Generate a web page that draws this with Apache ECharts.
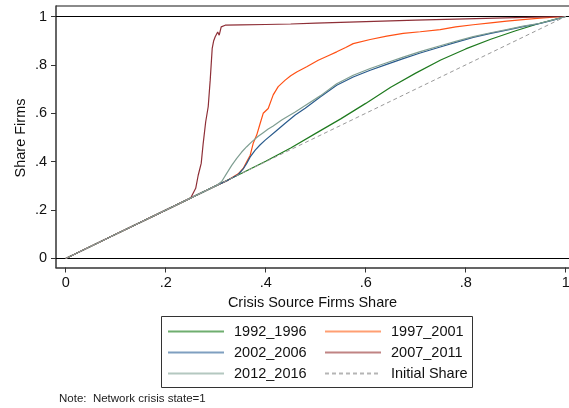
<!DOCTYPE html>
<html>
<head>
<meta charset="utf-8">
<script src="https://cdn.jsdelivr.net/npm/echarts@6/dist/echarts.min.js"></script>
<style>
html,body{margin:0;padding:0;background:#fff;}
#chart{width:569px;height:408px;}
</style>
</head>
<body>
<div id="chart"></div>
<script>
// ---- data ----
const tickValues = [0, 0.2, 0.4, 0.6, 0.8, 1];
const tickLabels = ['0', '.2', '.4', '.6', '.8', '1'];

const x1992 = [0, 0.1, 0.2, 0.3, 0.35, 0.40, 0.45, 0.50, 0.55, 0.60, 0.65, 0.70, 0.75, 0.80, 0.85, 0.90, 0.95, 1.0];
const y1992 = [0, 0.1, 0.2, 0.3, 0.35, 0.402, 0.457, 0.517, 0.577, 0.641, 0.708, 0.766, 0.82, 0.866, 0.906, 0.941, 0.973, 1.0];

const x1997 = [0, 0.1, 0.2, 0.3, 0.325, 0.345, 0.355, 0.362, 0.369, 0.375, 0.382, 0.389, 0.395, 0.405, 0.415, 0.425, 0.439, 0.45, 0.462, 0.482, 0.505, 0.525, 0.542, 0.56, 0.575, 0.609, 0.642, 0.675, 0.709, 0.749, 0.78, 0.815, 0.85, 0.882, 0.92, 0.949, 0.975, 1.0];
const y1997 = [0, 0.1, 0.2, 0.3, 0.324, 0.35, 0.372, 0.40, 0.427, 0.476, 0.51, 0.559, 0.60, 0.62, 0.676, 0.71, 0.737, 0.755, 0.771, 0.792, 0.819, 0.838, 0.854, 0.872, 0.888, 0.905, 0.919, 0.93, 0.937, 0.946, 0.957, 0.966, 0.974, 0.981, 0.988, 0.993, 0.997, 1.0];

const x2002 = [0, 0.1, 0.2, 0.3, 0.325, 0.345, 0.355, 0.362, 0.369, 0.373, 0.379, 0.389, 0.399, 0.419, 0.439, 0.459, 0.479, 0.509, 0.542, 0.575, 0.609, 0.642, 0.675, 0.709, 0.749, 0.78, 0.815, 0.85, 0.882, 0.915, 0.949, 0.975, 1.0];
const y2002 = [0, 0.1, 0.2, 0.3, 0.324, 0.347, 0.37, 0.393, 0.42, 0.422, 0.448, 0.47, 0.489, 0.524, 0.559, 0.593, 0.621, 0.667, 0.716, 0.75, 0.778, 0.802, 0.826, 0.849, 0.874, 0.893, 0.914, 0.93, 0.944, 0.958, 0.971, 0.985, 1.0];

const x2007 = [0, 0.1, 0.2, 0.25, 0.253, 0.26, 0.265, 0.269, 0.271, 0.275, 0.28, 0.283, 0.285, 0.289, 0.291, 0.293, 0.296, 0.299, 0.304, 0.307, 0.311, 0.319, 0.35, 0.4, 0.45, 0.5, 0.6, 0.7, 0.8, 0.9, 1.0];
const y2007 = [0, 0.1, 0.2, 0.25, 0.262, 0.29, 0.344, 0.351, 0.393, 0.476, 0.565, 0.572, 0.627, 0.737, 0.744, 0.868, 0.9, 0.916, 0.936, 0.923, 0.957, 0.964, 0.965, 0.967, 0.969, 0.973, 0.979, 0.985, 0.99, 0.995, 1.0];

const x2012 = [0, 0.1, 0.2, 0.3, 0.312, 0.322, 0.332, 0.342, 0.352, 0.362, 0.372, 0.385, 0.395, 0.405, 0.415, 0.432, 0.442, 0.459, 0.479, 0.509, 0.542, 0.575, 0.609, 0.642, 0.675, 0.709, 0.749, 0.78, 0.815, 0.85, 0.882, 0.915, 0.949, 0.975, 1.0];
const y2012 = [0, 0.1, 0.2, 0.3, 0.318, 0.352, 0.385, 0.414, 0.44, 0.462, 0.482, 0.505, 0.52, 0.535, 0.548, 0.572, 0.585, 0.605, 0.632, 0.672, 0.722, 0.757, 0.785, 0.809, 0.832, 0.855, 0.879, 0.897, 0.917, 0.933, 0.946, 0.96, 0.972, 0.986, 1.0];

const xInit = [0, 1];
const yInit = [0, 1];

const seriesNames = ['1992_1996', '1997_2001', '2002_2006', '2007_2011', '2012_2016', 'Initial Share'];
const refLines = [0, 1];
const xTitle = 'Crisis Source Firms Share';
const yTitle = 'Share Firms';
const noteText = 'Note:  Network crisis state=1';

// ---- styling ----
const plotColors = ['#1f7a1f', '#ff5014', '#2a5b8c', '#8e2f37', '#7f9e92', '#9a9a9a'];
const legendColors = ['#6fae6f', '#ff9f73', '#7f9fc0', '#c08484', '#b4c8c0', '#b5b5b5'];
const FONT = '"Liberation Sans", Arial, Helvetica, sans-serif';

function pairs(xs, ys) { return xs.map((x, i) => [x, ys[i]]); }
const dataSets = [pairs(x1992, y1992), pairs(x1997, y1997), pairs(x2002, y2002), pairs(x2007, y2007), pairs(x2012, y2012), pairs(xInit, yInit)];

const fmt = v => { const i = tickValues.indexOf(v); return i >= 0 ? tickLabels[i] : ''; };

const series = [];
[5, 0, 1, 2, 3, 4].forEach((k) => {
  const s = {
    name: seriesNames[k],
    type: 'line',
    data: dataSets[k],
    symbol: 'none',
    showSymbol: false,
    silent: true,
    animation: false,
    lineStyle: { color: plotColors[k], width: k === 5 ? 1 : 1.2, type: k === 5 ? [4, 3] : 'solid' },
    itemStyle: { color: plotColors[k] },
    z: 2 + k
  };
  if (k === 5) {
    s.markLine = {
      silent: true, symbol: 'none', animation: false,
      label: { show: false },
      lineStyle: { color: '#000', width: 1.2, type: 'solid' },
      data: refLines.map(v => ({ yAxis: v }))
    };
  }
  series.push(s);
});

function legendData(idx) {
  return idx.map(k => ({
    name: seriesNames[k],
    lineStyle: { color: legendColors[k], width: 2, type: k === 5 ? [4, 3] : 'solid' },
    itemStyle: { color: 'rgba(0,0,0,0)', borderWidth: 0, opacity: 0 }
  }));
}

const legendCommon = {
  orient: 'vertical', top: 324, itemWidth: 56, itemHeight: 14, itemGap: 6.0, padding: 0,
  selectedMode: false,
  textStyle: { fontFamily: FONT, fontSize: 14.5, color: '#111', padding: [0, 0, 0, 5], lineHeight: 14 }
};

const option = {
  animation: false,
  backgroundColor: '#fff',
  grid: { left: 56, top: 6, right: 0, height: 261.5, show: false, containLabel: false, outerBoundsMode: 'none' },
  xAxis: {
    type: 'value', min: -0.0194, max: 1.0066,
    name: xTitle, nameLocation: 'middle', nameGap: 20,
    nameTextStyle: { fontFamily: FONT, fontSize: 14.5, color: '#111' },
    axisLine: { show: true, onZero: false, lineStyle: { color: '#333', width: 1.5 } },
    axisTick: { show: true, length: 5, customValues: tickValues, lineStyle: { color: '#333', width: 1 } },
    axisLabel: { customValues: tickValues, formatter: fmt, margin: 8, fontFamily: FONT, fontSize: 14.5, color: '#111' },
    splitLine: { show: false }
  },
  yAxis: {
    type: 'value', min: -0.0372, max: 1.0434,
    axisLine: { show: true, onZero: false, lineStyle: { color: '#333', width: 1.5 } },
    axisTick: { show: true, length: 5, customValues: tickValues, lineStyle: { color: '#333', width: 1 } },
    axisLabel: { customValues: tickValues, formatter: fmt, margin: 9, fontFamily: FONT, fontSize: 14.5, color: '#111' },
    splitLine: { show: false }
  },
  legend: [
    Object.assign({ left: 167, data: legendData([0, 2, 4]) }, legendCommon),
    Object.assign({ left: 324, data: legendData([1, 3, 5]) }, legendCommon)
  ],
  graphic: [
    { type: 'line', shape: { x1: 56, y1: 6, x2: 569, y2: 6 }, style: { stroke: '#8a8a8a', lineWidth: 2 }, silent: true, z: 0 },
    { type: 'rect', shape: { x: 161.5, y: 316.5, width: 311, height: 71 }, style: { fill: 'none', stroke: '#333', lineWidth: 1 }, silent: true, z: 0 },
    { type: 'text', x: 20.5, y: 138, rotation: Math.PI / 2, style: { text: yTitle, fontFamily: FONT, fontSize: 14.5, fill: '#111', align: 'center', verticalAlign: 'middle' }, silent: true },
    { type: 'text', x: 59, y: 393, style: { text: noteText, fontFamily: FONT, fontSize: 11.5, fill: '#222' }, silent: true }
  ],
  series: series
};

const chart = echarts.init(document.getElementById('chart'), null, { renderer: 'canvas' });
chart.setOption(option);
</script>
</body>
</html>
